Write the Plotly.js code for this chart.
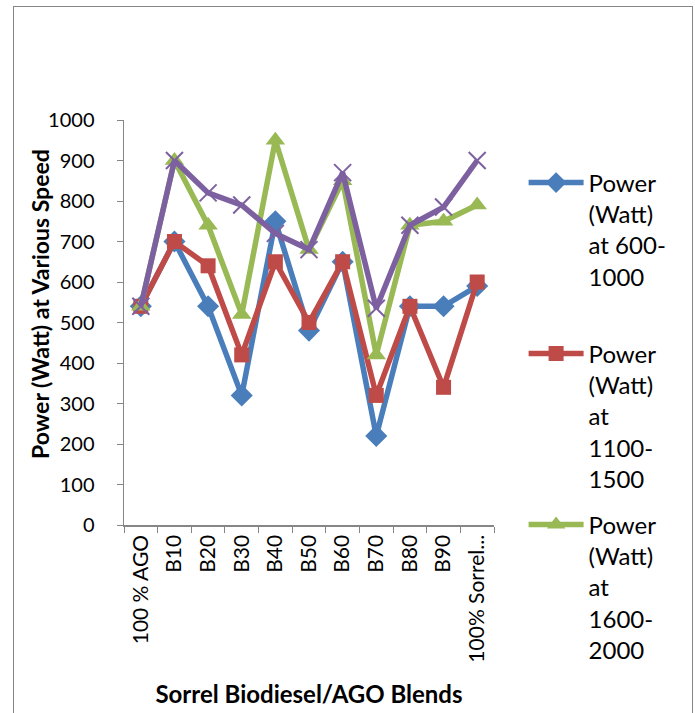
<!DOCTYPE html>
<html><head><meta charset="utf-8">
<script src="https://cdn.plot.ly/plotly-3.0.1.min.js"></script>
<style>
body{margin:0;padding:0;background:#fff;}
#chart{width:695px;height:713px;}
#frame{position:absolute;left:13px;top:6px;width:678px;height:720px;border:1.5px solid #868686;pointer-events:none;}
</style></head>
<body>
<div id="chart"></div>
<div id="frame"></div>
<script>
const categories = ["100 % AGO","B10","B20","B30","B40","B50","B60","B70","B80","B90","100% Sorrel..."];
const power600_1000  = [540,700,540,320,750,480,650,220,540,540,590];
const power1100_1500 = [540,700,640,420,650,500,650,320,540,340,600];
const power1600_2000 = [540,900,740,520,950,680,850,420,740,750,790];
const power2100_2500 = [540,900,820,790,720,680,870,535,740,785,900];
const seriesNames = ["Power<br>(Watt)<br>at 600-<br>1000<br> ","Power<br>(Watt)<br>at<br>1100-<br>1500","Power<br>(Watt)<br>at<br>1600-<br>2000","Power<br>(Watt)<br>at<br>2100-<br>2500"];
const xTitle = "Sorrel Biodiesel/AGO Blends";
const yTitle = "Power (Watt) at Various Speed";

const font = "Lato, 'Liberation Sans', sans-serif";
const traces = [
  {y: power600_1000, name: seriesNames[0], color:'#4A7EBB', symbol:'diamond', size:17, show:true},
  {y: power1100_1500, name: seriesNames[1], color:'#BE4B48', symbol:'square', size:15, show:true},
  {y: power1600_2000, name: seriesNames[2], color:'#98B954', symbol:'triangle-up', size:17, show:true},
  {y: power2100_2500, name: seriesNames[3], color:'#7D60A0', symbol:'x-thin-open', size:17, show:false}
].map((s,i)=>({
  type:'scatter', mode:'lines+markers', x: categories, y: s.y, name: s.name,
  legendgroup:'g'+i, showlegend: s.show,
  line:{color:s.color, width:5.5},
  marker:{symbol:s.symbol, size:s.size, color:s.color, line:{color:s.color, width: s.symbol==='x-thin-open'?2:0}}
}));

const layout = {
  width:695, height:713,
  margin:{l:124, r:201, t:120, b:188},
  paper_bgcolor:'#fff', plot_bgcolor:'#fff',
  font:{family:font, color:'#000', size:20},
  showlegend:true,
  legend:{x:1.08, xanchor:'left', y:0.9, yanchor:'top', valign:'top',
    font:{family:font, size:24, color:'#000'}, tracegroupgap:12, itemwidth:55,
    maxheight:700, bgcolor:'rgba(0,0,0,0)'},
  xaxis:{type:'category', range:[-0.5,10.5], showgrid:false, zeroline:false,
    showline:true, linecolor:'#868686', linewidth:1.5,
    ticks:'outside', ticklen:6, tickcolor:'#868686', tickson:'boundaries',
    tickangle:-90, tickfont:{family:font, size:21},
    title:{text:'<b>'+xTitle+'</b>', font:{family:font, size:24}, standoff:24}},
  yaxis:{range:[0,1000], dtick:100, showgrid:false, zeroline:false,
    showline:true, linecolor:'#868686', linewidth:1.5,
    ticks:'outside', ticklen:6, tickcolor:'#868686', tickfont:{family:font, size:20},
    ticklabelstandoff:18},
  annotations:[{text:'<b>'+yTitle+'</b>', textangle:-90, showarrow:false,
    xref:'paper', yref:'paper', x:-0.227, y:0.546, xanchor:'center', yanchor:'middle',
    font:{family:font, size:23, color:'#000'}}]
};
Plotly.newPlot('chart', traces, layout, {displayModeBar:false, staticPlot:true});
</script>
</body></html>
